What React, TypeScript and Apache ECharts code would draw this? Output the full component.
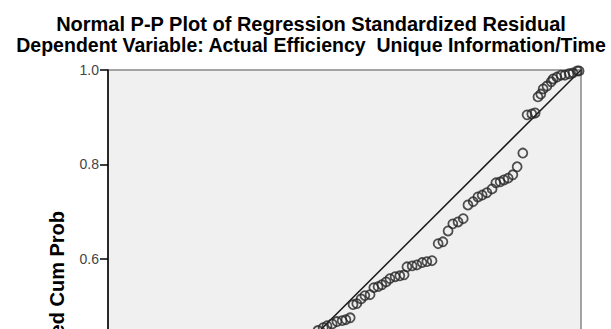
import React, { useEffect, useRef } from "react";
import * as echarts from "echarts";

const titleText = "Normal P-P Plot of Regression Standardized Residual";
const subtitleText = "Dependent Variable: Actual Efficiency  Unique Information/Time";
const yAxisName = "Expected Cum Prob";

// Observed cumulative probability (x) and expected cumulative probability (y)
const observedCumProb = [
  0.996, 0.992, 0.983, 0.975, 0.966, 0.958, 0.949, 0.941, 0.937, 0.928,
  0.92, 0.915, 0.909, 0.903, 0.896, 0.886, 0.877, 0.865, 0.856, 0.846,
  0.837, 0.829, 0.82, 0.812, 0.801, 0.791, 0.782, 0.772, 0.761, 0.751,
  0.74, 0.729, 0.719, 0.708, 0.698, 0.685, 0.674, 0.664, 0.653, 0.643,
  0.632, 0.626, 0.617, 0.607, 0.596, 0.588, 0.579, 0.571, 0.562, 0.554,
  0.543, 0.535, 0.526, 0.518, 0.512, 0.503, 0.495, 0.484, 0.474, 0.463,
  0.455, 0.444,
];
const expectedCumProb = [
  0.998, 0.998, 0.994, 0.992, 0.989, 0.989, 0.985, 0.981, 0.975, 0.966,
  0.96, 0.949, 0.943, 0.909, 0.907, 0.905, 0.824, 0.795, 0.778, 0.771,
  0.767, 0.763, 0.761, 0.748, 0.74, 0.735, 0.731, 0.721, 0.714, 0.685,
  0.678, 0.674, 0.659, 0.636, 0.632, 0.596, 0.594, 0.592, 0.587, 0.585,
  0.583, 0.566, 0.564, 0.562, 0.558, 0.551, 0.545, 0.541, 0.539, 0.524,
  0.522, 0.515, 0.505, 0.503, 0.475, 0.471, 0.469, 0.467, 0.462, 0.458,
  0.454, 0.448,
];
const referenceLine = [
  [0, 0],
  [1, 1],
];
const axisMin = 0;
const axisMax = 1;
const axisInterval = 0.2;

export default function App() {
  const ref = useRef<HTMLDivElement>(null);
  useEffect(() => {
    if (!ref.current) return;
    const chart = echarts.init(ref.current, undefined, { renderer: "svg" });
    const font = 'Arial, "Liberation Sans", sans-serif';
    chart.setOption({
      animation: false,
      backgroundColor: "#ffffff",
      graphic: [
        {
          type: "text",
          x: 311,
          y: 24,
          style: {
            text: titleText,
            font: `bold 20px ${font}`,
            fill: "#000",
            align: "center",
            verticalAlign: "middle",
          },
        },
        {
          type: "text",
          x: 311,
          y: 45,
          style: {
            text: subtitleText,
            font: `bold 19.5px ${font}`,
            fill: "#000",
            align: "center",
            verticalAlign: "middle",
          },
        },
      ],
      grid: {
        left: 108,
        top: 70,
        width: 473,
        height: 472,
        show: true,
        backgroundColor: "#f0f0f0",
        borderColor: "#888888",
        borderWidth: 1.5,
      },
      xAxis: {
        type: "value",
        min: axisMin,
        max: axisMax,
        interval: axisInterval,
        axisLine: { lineStyle: { color: "#000", width: 1.5 } },
        axisTick: { length: 8, lineStyle: { color: "#000", width: 1.5 } },
        axisLabel: { show: false },
        splitLine: { show: false },
      },
      yAxis: {
        type: "value",
        min: axisMin,
        max: axisMax,
        interval: axisInterval,
        name: yAxisName,
        nameLocation: "middle",
        nameRotate: 90,
        nameGap: 41,
        nameTextStyle: { fontFamily: font, fontWeight: "bold", fontSize: 20, color: "#000" },
        axisLine: { lineStyle: { color: "#000", width: 1.5 } },
        axisTick: { length: 8, lineStyle: { color: "#000", width: 1.5 } },
        axisLabel: {
          fontFamily: font,
          fontSize: 14,
          color: "#444",
          margin: 9,
          formatter: (v: number) => v.toFixed(1),
        },
        splitLine: { show: false },
      },
      series: [
        {
          type: "line",
          data: referenceLine,
          symbol: "none",
          lineStyle: { color: "#1a1a1a", width: 1.5 },
          z: 2,
        },
        {
          type: "scatter",
          data: observedCumProb.map((x, i) => [x, expectedCumProb[i]]),
          symbol: "circle",
          symbolSize: 9,
          itemStyle: { color: "rgba(0,0,0,0)", borderColor: "#262626", borderWidth: 1.8 },
          z: 3,
        },
      ],
    });
    return () => chart.dispose();
  }, []);
  return (
    <div style={{ position: "fixed", left: 0, top: 0, width: 611, height: 329, overflow: "hidden", background: "#fff" }}>
      <div ref={ref} style={{ width: 611, height: 600 }} />
    </div>
  );
}
